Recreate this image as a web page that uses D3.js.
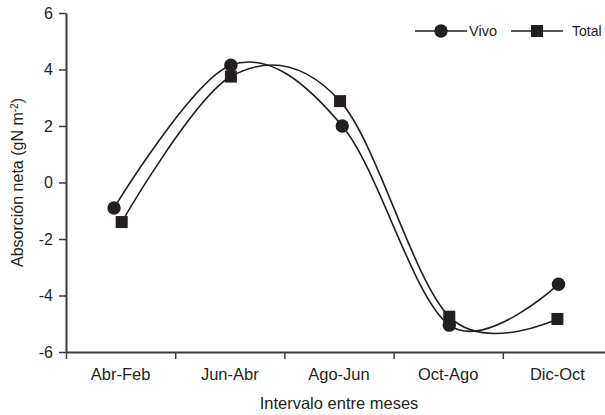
<!DOCTYPE html>
<html>
<head>
<meta charset="utf-8">
<script src="https://cdn.jsdelivr.net/npm/d3@7"></script>
<style>
  html, body { margin: 0; padding: 0; background: #fff; }
  svg { display: block; }
  text { font-family: "Liberation Sans", Arial, Helvetica, sans-serif; fill: #231f20; }
</style>
</head>
<body>
<svg id="chart" width="605" height="415"></svg>
<script>
// ---- data ----
const categories = ["Abr-Feb", "Jun-Abr", "Ago-Jun", "Oct-Ago", "Dic-Oct"];
const vivoPos  = [0.44, 1.51, 2.53, 3.51, 4.51];   // position along the category axis
const vivo     = [-0.9, 4.15, 2.0, -5.05, -3.6];
const totalPos = [0.51, 1.51, 2.51, 3.51, 4.50];
const total    = [-1.4, 3.75, 2.88, -4.75, -4.83];
const yTicks   = [-6, -4, -2, 0, 2, 4, 6];
const seriesNames = ["Vivo", "Total"];

// ---- layout ----
const svg = d3.select("#chart");
const ink = "#231f20";
const axisInk = "#3a3a3a";

const x = d3.scaleLinear().domain([0, 5]).range([66, 612]);
const y = d3.scaleLinear().domain([-6, 6]).range([352, 13]);

// y axis
const yAxis = svg.append("g").attr("transform", `translate(${x(0)},0)`)
  .call(d3.axisLeft(y).tickValues(yTicks).tickSize(7).tickPadding(6).tickSizeOuter(0).tickFormat(d3.format("d")));
yAxis.select(".domain").attr("stroke", axisInk).attr("stroke-width", 2);
yAxis.selectAll(".tick line").attr("stroke", axisInk).attr("stroke-width", 1.5);
yAxis.selectAll(".tick text").attr("font-size", 16).attr("fill", ink)
  .attr("font-family", "Liberation Sans, Arial, sans-serif").text(d => d < 0 ? "-" + Math.abs(d) : d);

// x axis
const xAxis = svg.append("g").attr("transform", `translate(0,${y(-6)})`)
  .call(d3.axisBottom(x).tickValues([0, 1, 2, 3, 4]).tickSize(7).tickSizeOuter(0).tickFormat(""));
xAxis.select(".domain").attr("stroke", axisInk).attr("stroke-width", 2);
xAxis.selectAll(".tick line").attr("stroke", axisInk).attr("stroke-width", 1.5);

svg.append("g").selectAll("text").data(categories).join("text")
  .attr("x", (d, i) => x(i + 0.5)).attr("y", 380)
  .attr("text-anchor", "middle").attr("font-size", 16.5).text(d => d);

// axis titles
svg.append("text").attr("x", x(2.5)).attr("y", 409).attr("text-anchor", "middle")
  .attr("font-size", 16.5).text("Intervalo entre meses");

const yt = svg.append("text").attr("transform", `translate(23,${y(0)}) rotate(-90)`)
  .attr("text-anchor", "middle").attr("font-size", 16);
yt.append("tspan").text("Absorción neta (gN m");
yt.append("tspan").attr("dy", -5).attr("font-size", 10).text("-2");
yt.append("tspan").attr("dy", 5).text(")");

// lines
const line = d3.line().x(d => x(d[0])).y(d => y(d[1])).curve(d3.curveCardinal.tension(0));
const vivoPts = vivo.map((v, i) => [vivoPos[i], v]);
const totalPts = total.map((v, i) => [totalPos[i], v]);

svg.append("path").attr("d", line(vivoPts)).attr("fill", "none").attr("stroke", ink).attr("stroke-width", 1.6);
svg.append("path").attr("d", line(totalPts)).attr("fill", "none").attr("stroke", ink).attr("stroke-width", 1.6);

// markers
svg.append("g").selectAll("circle").data(vivoPts).join("circle")
  .attr("cx", d => x(d[0])).attr("cy", d => y(d[1])).attr("r", 6.7).attr("fill", ink);
svg.append("g").selectAll("rect").data(totalPts).join("rect")
  .attr("x", d => x(d[0]) - 6).attr("y", d => y(d[1]) - 6).attr("width", 12).attr("height", 12).attr("fill", ink);

// legend
const lg = svg.append("g");
const lgY = 31;
lg.append("line").attr("x1", 415).attr("x2", 467).attr("y1", lgY).attr("y2", lgY).attr("stroke", ink).attr("stroke-width", 1.6);
lg.append("circle").attr("cx", 441).attr("cy", lgY).attr("r", 6.7).attr("fill", ink);
lg.append("text").attr("x", 469).attr("y", lgY + 5).attr("font-size", 14.5).text(seriesNames[0]);
lg.append("line").attr("x1", 511).attr("x2", 563).attr("y1", lgY).attr("y2", lgY).attr("stroke", ink).attr("stroke-width", 1.6);
lg.append("rect").attr("x", 531).attr("y", lgY - 6).attr("width", 12).attr("height", 12).attr("fill", ink);
lg.append("text").attr("x", 572).attr("y", lgY + 5).attr("font-size", 14).text(seriesNames[1]);
</script>
</body>
</html>
